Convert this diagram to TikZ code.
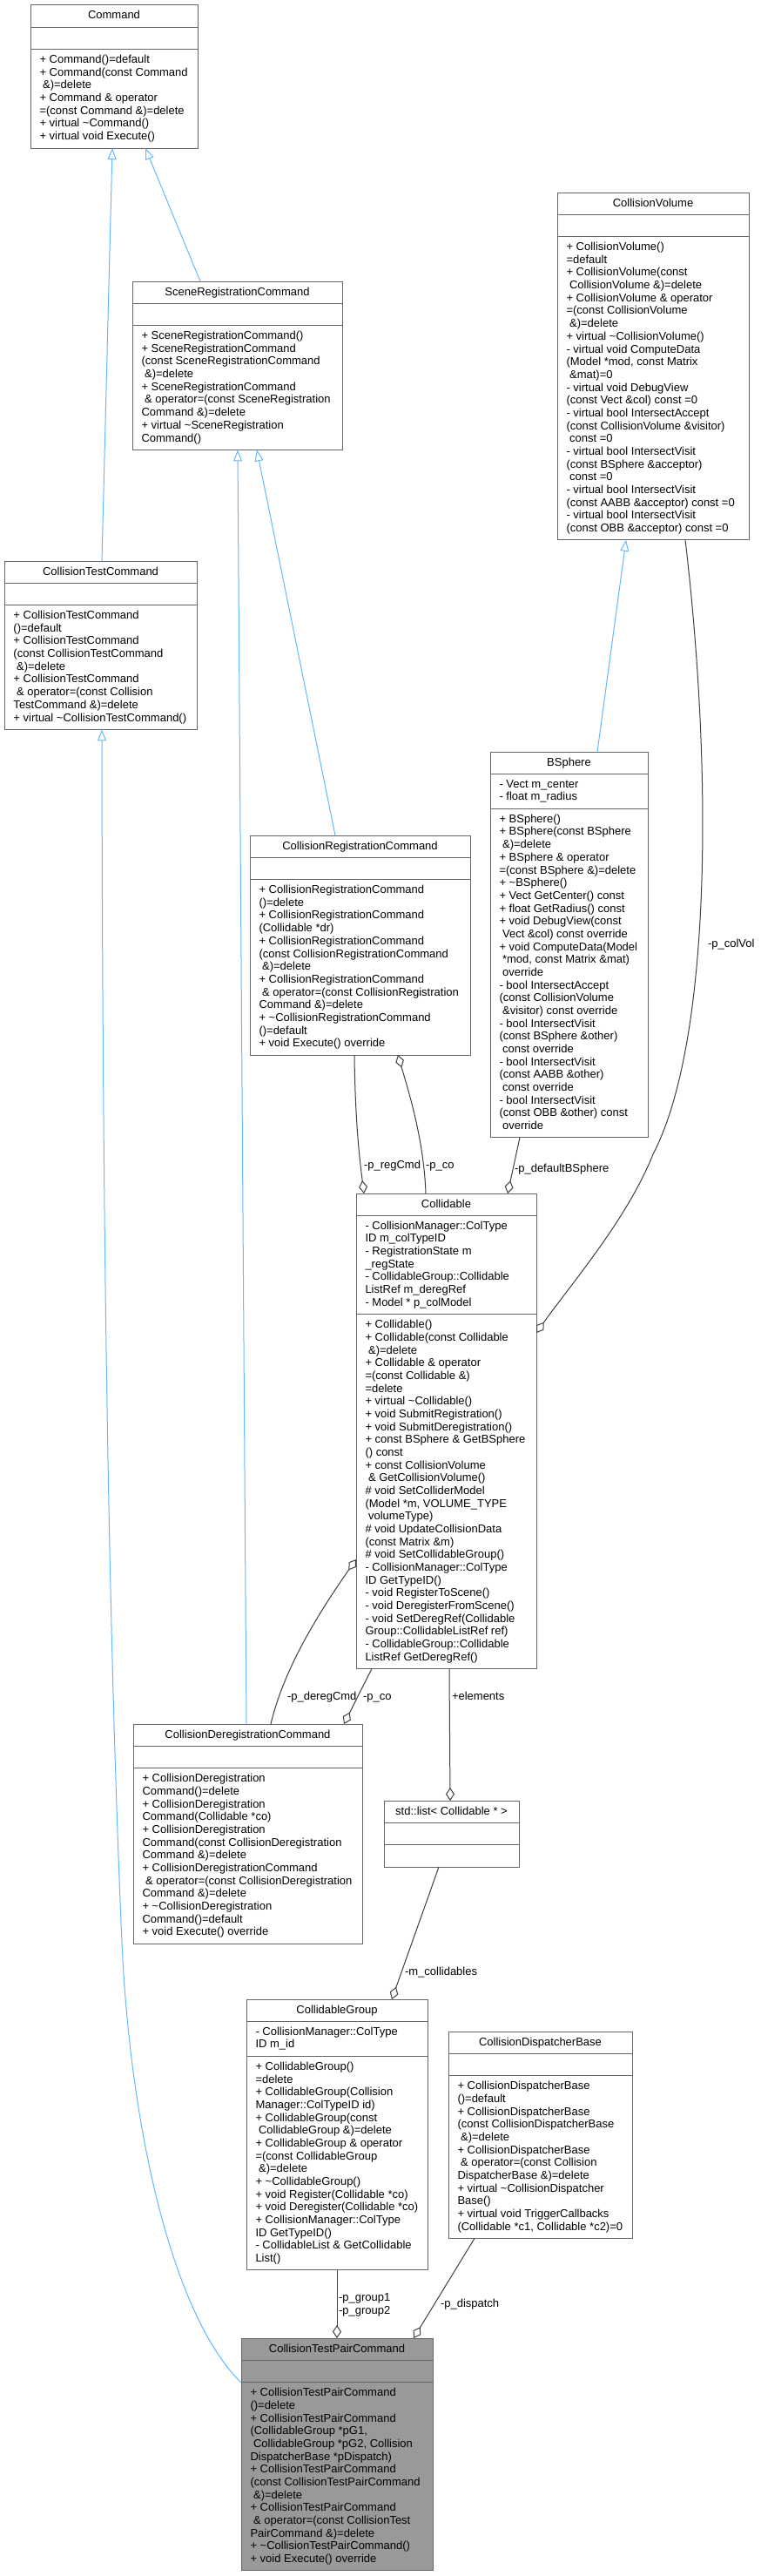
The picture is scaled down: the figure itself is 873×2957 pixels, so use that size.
\documentclass[tikz,border=0pt]{standalone}
\usepackage{fontspec}
\setmainfont{Liberation Sans}
\usetikzlibrary{arrows.meta}
\definecolor{edgeblue}{HTML}{63B8FF}
\definecolor{edgegray}{HTML}{404040}
\definecolor{boxborder}{HTML}{666666}
\definecolor{hlfill}{HTML}{999999}
\newcommand{\leadsp}{\hspace*{3.6pt}}
\newcommand{\umlclass}[9]{%
  \pgfmathsetmacro{\umlhA}{max(1,#6)*14.67+10.7}%
  \pgfmathsetmacro{\umlhM}{max(1,#8)*14.67+10.7}%
  \pgfmathsetmacro{\umlhT}{25.3+\umlhA+\umlhM}%
  \pgfmathsetmacro{\umlyA}{-25.3}%
  \pgfmathsetmacro{\umlyM}{-25.3-\umlhA}%
  \pgfmathsetmacro{\umlyAt}{-25.3-5.7}%
  \pgfmathsetmacro{\umlyMt}{-25.3-\umlhA-5.7}%
  \node[classbox, minimum width=#4pt, minimum height=\umlhT pt, anchor=north west] (#1) at (#2,#3) {};
  \draw[classline] ([yshift=\umlyA pt]#1.north west) -- ([yshift=\umlyA pt]#1.north east);
  \draw[classline] ([yshift=\umlyM pt]#1.north west) -- ([yshift=\umlyM pt]#1.north east);
  \node[txt, anchor=base] (#1-t) at ([yshift=-16pt]#1.north) {#5};
  \ifnum#6>0 \node[txt, anchor=north west, align=left] (#1-a) at ([xshift=10.5pt, yshift=\umlyAt pt]#1.north west) {\strut #7};\fi
  \ifnum#8>0 \node[txt, anchor=north west, align=left] (#1-m) at ([xshift=10.5pt, yshift=\umlyMt pt]#1.north west) {\strut #9};\fi
}
\begin{document}
\begin{tikzpicture}[x=1pt, y=-1pt,
  classbox/.style={draw=boxborder, fill=white, line width=1pt, inner sep=0pt, outer sep=0pt, rectangle},
  classline/.style={draw=boxborder, line width=1pt},
  txt/.style={font=\fontsize{13}{14.67}\selectfont, inner sep=0pt, outer sep=0pt, text=black},
  inh/.style={draw=edgeblue, line width=1pt, -{Triangle[open, length=13pt, width=10pt]}},
  agg/.style={draw=edgegray, line width=1pt, -{Diamond[open, length=15pt, width=10pt]}},
  lbl/.style={txt, anchor=base west}]
\useasboundingbox[fill=white] (0,0) rectangle (873,2957);

\umlclass{cmd}{35}{6}{192}{Command}{0}{}{7}{%
+ Command()=default\\
+ Command(const Command\\
\leadsp\&)=delete\\
+ Command \& operator\\
=(const Command \&)=delete\\
+ virtual \textasciitilde Command()\\
+ virtual void Execute()}

\umlclass{src}{152}{323}{241}{SceneRegistrationCommand}{0}{}{9}{%
+ SceneRegistrationCommand()\\
+ SceneRegistrationCommand\\
(const SceneRegistrationCommand\\
\leadsp\&)=delete\\
+ SceneRegistrationCommand\\
\leadsp\& operator=(const SceneRegistration\\
Command \&)=delete\\
+ virtual \textasciitilde SceneRegistration\\
Command()}

\umlclass{cvol}{640}{221}{220}{CollisionVolume}{0}{}{23}{%
+ CollisionVolume()\\
=default\\
+ CollisionVolume(const\\
\leadsp CollisionVolume \&)=delete\\
+ CollisionVolume \& operator\\
=(const CollisionVolume\\
\leadsp\&)=delete\\
+ virtual \textasciitilde CollisionVolume()\\
- virtual void ComputeData\\
(Model *mod, const Matrix\\
\leadsp\&mat)=0\\
- virtual void DebugView\\
(const Vect \&col) const =0\\
- virtual bool IntersectAccept\\
(const CollisionVolume \&visitor)\\
\leadsp const =0\\
- virtual bool IntersectVisit\\
(const BSphere \&acceptor)\\
\leadsp const =0\\
- virtual bool IntersectVisit\\
(const AABB \&acceptor) const =0\\
- virtual bool IntersectVisit\\
(const OBB \&acceptor) const =0}

\umlclass{ctc}{5}{644}{221}{CollisionTestCommand}{0}{}{9}{%
+ CollisionTestCommand\\
()=default\\
+ CollisionTestCommand\\
(const CollisionTestCommand\\
\leadsp\&)=delete\\
+ CollisionTestCommand\\
\leadsp\& operator=(const Collision\\
TestCommand \&)=delete\\
+ virtual \textasciitilde CollisionTestCommand()}

\umlclass{bsph}{563}{863}{181}{BSphere}{2}{%
- Vect m\_center\\
- float m\_radius}{25}{%
+ BSphere()\\
+ BSphere(const BSphere\\
\leadsp\&)=delete\\
+ BSphere \& operator\\
=(const BSphere \&)=delete\\
+ \textasciitilde BSphere()\\
+ Vect GetCenter() const\\
+ float GetRadius() const\\
+ void DebugView(const\\
\leadsp Vect \&col) const override\\
+ void ComputeData(Model\\
\leadsp *mod, const Matrix \&mat)\\
\leadsp override\\
- bool IntersectAccept\\
(const CollisionVolume\\
\leadsp\&visitor) const override\\
- bool IntersectVisit\\
(const BSphere \&other)\\
\leadsp const override\\
- bool IntersectVisit\\
(const AABB \&other)\\
\leadsp const override\\
- bool IntersectVisit\\
(const OBB \&other) const\\
\leadsp override}

\umlclass{crc}{287}{959}{253}{CollisionRegistrationCommand}{0}{}{13}{%
+ CollisionRegistrationCommand\\
()=delete\\
+ CollisionRegistrationCommand\\
(Collidable *dr)\\
+ CollisionRegistrationCommand\\
(const CollisionRegistrationCommand\\
\leadsp\&)=delete\\
+ CollisionRegistrationCommand\\
\leadsp\& operator=(const CollisionRegistration\\
Command \&)=delete\\
+ \textasciitilde CollisionRegistrationCommand\\
()=default\\
+ void Execute() override}

\umlclass{coll}{409}{1370}{207}{Collidable}{7}{%
- CollisionManager::ColType\\
ID m\_colTypeID\\
- RegistrationState m\\
\_regState\\
- CollidableGroup::Collidable\\
ListRef m\_deregRef\\
- Model * p\_colModel}{27}{%
+ Collidable()\\
+ Collidable(const Collidable\\
\leadsp\&)=delete\\
+ Collidable \& operator\\
=(const Collidable \&)\\
=delete\\
+ virtual \textasciitilde Collidable()\\
+ void SubmitRegistration()\\
+ void SubmitDeregistration()\\
+ const BSphere \& GetBSphere\\
() const\\
+ const CollisionVolume\\
\leadsp\& GetCollisionVolume()\\
\# void SetColliderModel\\
(Model *m, VOLUME\_TYPE\\
\leadsp volumeType)\\
\# void UpdateCollisionData\\
(const Matrix \&m)\\
\# void SetCollidableGroup()\\
- CollisionManager::ColType\\
ID GetTypeID()\\
- void RegisterToScene()\\
- void DeregisterFromScene()\\
- void SetDeregRef(Collidable\\
Group::CollidableListRef ref)\\
- CollidableGroup::Collidable\\
ListRef GetDeregRef()}

\umlclass{dereg}{153}{1979}{263}{CollisionDeregistrationCommand}{0}{}{13}{%
+ CollisionDeregistration\\
Command()=delete\\
+ CollisionDeregistration\\
Command(Collidable *co)\\
+ CollisionDeregistration\\
Command(const CollisionDeregistration\\
Command \&)=delete\\
+ CollisionDeregistrationCommand\\
\leadsp\& operator=(const CollisionDeregistration\\
Command \&)=delete\\
+ \textasciitilde CollisionDeregistration\\
Command()=default\\
+ void Execute() override}

\umlclass{lst}{441}{2067}{155}{std::list< Collidable * >}{0}{}{0}{}

\umlclass{cg}{283}{2295}{208}{CollidableGroup}{2}{%
- CollisionManager::ColType\\
ID m\_id}{16}{%
+ CollidableGroup()\\
=delete\\
+ CollidableGroup(Collision\\
Manager::ColTypeID id)\\
+ CollidableGroup(const\\
\leadsp CollidableGroup \&)=delete\\
+ CollidableGroup \& operator\\
=(const CollidableGroup\\
\leadsp\&)=delete\\
+ \textasciitilde CollidableGroup()\\
+ void Register(Collidable *co)\\
+ void Deregister(Collidable *co)\\
+ CollisionManager::ColType\\
ID GetTypeID()\\
- CollidableList \& GetCollidable\\
List()}

\umlclass{disp}{515}{2332}{211}{CollisionDispatcherBase}{0}{}{12}{%
+ CollisionDispatcherBase\\
()=default\\
+ CollisionDispatcherBase\\
(const CollisionDispatcherBase\\
\leadsp\&)=delete\\
+ CollisionDispatcherBase\\
\leadsp\& operator=(const Collision\\
DispatcherBase \&)=delete\\
+ virtual \textasciitilde CollisionDispatcher\\
Base()\\
+ virtual void TriggerCallbacks\\
(Collidable *c1, Collidable *c2)=0}

\begin{scope}[classbox/.append style={fill=hlfill}]
\umlclass{tpair}{277}{2684}{220}{CollisionTestPairCommand}{0}{}{14}{%
+ CollisionTestPairCommand\\
()=delete\\
+ CollisionTestPairCommand\\
(CollidableGroup *pG1,\\
\leadsp CollidableGroup *pG2, Collision\\
DispatcherBase *pDispatch)\\
+ CollisionTestPairCommand\\
(const CollisionTestPairCommand\\
\leadsp\&)=delete\\
+ CollisionTestPairCommand\\
\leadsp\& operator=(const CollisionTest\\
PairCommand \&)=delete\\
+ \textasciitilde CollisionTestPairCommand()\\
+ void Execute() override}
\end{scope}

% waypoints
\coordinate (w1) at (140,2230);
\coordinate (w2) at (750,1325);

% inheritance
\draw[inh] ([xshift=112pt]ctc.north west) -- ([xshift=94pt]cmd.south west);
\draw[inh] ([xshift=78pt]src.north west) -- ([xshift=132pt]cmd.south west);
\draw[inh] ([xshift=98pt]crc.north west) -- ([xshift=143pt]src.south west);
\draw[inh] ([xshift=130pt]dereg.north west) -- ([xshift=121pt]src.south west);
\draw[inh] ([xshift=123pt]bsph.north west) -- ([xshift=79pt]cvol.south west);
\draw[inh] ([yshift=-51pt]tpair.north west) .. controls (200,2660) and (150,2450) .. (w1) .. controls (130,2000) and (118,1600) .. ([xshift=112pt]ctc.south west);

% aggregation
\draw[agg] ([xshift=120pt]crc.south west) .. controls (408,1290) and (413,1330) .. ([xshift=9pt]coll.north west);
\draw[agg] ([xshift=80pt]coll.north west) .. controls (487,1310) and (470,1255) .. ([xshift=170pt]crc.south west);
\draw[agg] ([xshift=34pt]bsph.south west) -- ([xshift=174pt]coll.north west);
\draw[agg] ([xshift=147pt]cvol.south west) .. controls (820,900) and (815,1200) .. (w2) .. controls (720,1400) and (655,1475) .. ([yshift=-160pt]coll.north east);
\draw[agg] ([xshift=107pt]coll.south west) -- ([xshift=76pt]lst.north west);
\draw[agg] ([xshift=158pt]dereg.north west) .. controls (325,1920) and (360,1860) .. ([yshift=-420pt]coll.north west);
\draw[agg] ([xshift=18pt]coll.south west) -- ([xshift=242pt]dereg.north west);
\draw[agg] ([xshift=63pt]lst.south west) -- ([xshift=167pt]cg.north west);
\draw[agg] ([xshift=104pt]cg.south west) -- ([xshift=110pt]tpair.north west);
\draw[agg] ([xshift=30pt]disp.south west) -- ([xshift=198pt]tpair.north west);

% labels
\node[lbl] (l-regcmd) at (418,1341.7) {-p\_regCmd};
\node[lbl] (l-co1) at (489,1341.7) {-p\_co};
\node[lbl] (l-defbs) at (591,1345.5) {-p\_defaultBSphere};
\node[lbl] (l-colvol) at (813,1087.7) {-p\_colVol};
\node[lbl] (l-elem) at (519,1951.5) {+elements};
\node[lbl] (l-deregcmd) at (330,1951.5) {-p\_deregCmd};
\node[lbl] (l-co2) at (417,1951.5) {-p\_co};
\node[lbl] (l-mcoll) at (465,2267.7) {-m\_collidables};
\node[txt, anchor=north west, align=left] (l-group) at (389,2631.4) {\strut -p\_group1\\-p\_group2};
\node[lbl] (l-disp) at (506,2648.7) {-p\_dispatch};
\end{tikzpicture}
\end{document}
